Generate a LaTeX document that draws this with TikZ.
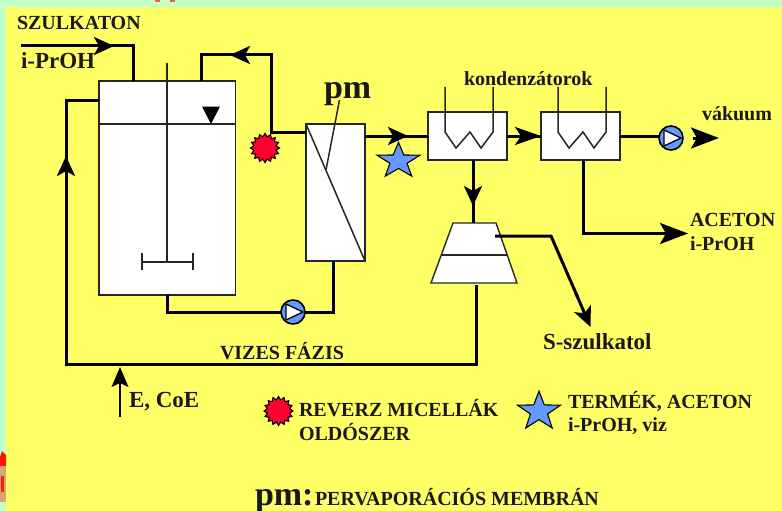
\documentclass[tikz,border=0pt]{standalone}
\usepackage{fontspec}
\setmainfont{Liberation Serif}
\usetikzlibrary{arrows.meta,shapes.geometric}
\definecolor{bggreen}{HTML}{C4FFC8}
\definecolor{bgyellow}{HTML}{FFFF66}
\definecolor{blueish}{HTML}{6699FF}
\definecolor{redish}{HTML}{FF0033}
\tikzset{
  unit/.style={draw=black!85,fill=white,line width=1.4pt,inner sep=0pt,outer sep=0pt},
  pipe/.style={line width=3pt,black,line join=miter},
  thin line/.style={line width=1.5pt,black!85},
  head/.style={-{Stealth[length=20pt,width=18pt,inset=5pt]},line width=3pt,black},
  bighead/.style={-{Stealth[length=28pt,width=21pt,inset=6pt]},line width=3pt,black},
  lbl/.style={anchor=base west,inner sep=0pt,outer sep=0pt,font=\bfseries\fontsize{20}{22}\selectfont,black!90},
  lblb/.style={lbl,font=\bfseries\fontsize{23}{25}\selectfont},
  lblh/.style={lbl,font=\bfseries\fontsize{34}{36}\selectfont},
  burst/.style={star,star points=16,star point ratio=1.28,fill=redish,draw=black,line width=1.1pt,inner sep=0pt,outer sep=0pt,minimum size=#1},
  bluestar/.style={star,star points=5,star point ratio=2.5,fill=blueish,draw=black,line width=1.1pt,inner sep=0pt,outer sep=0pt,minimum size=45pt,transform shape},
  pumpc/.style={circle,fill=blueish,draw=black,line width=1.6pt,minimum size=24pt,inner sep=0pt,outer sep=0pt},
}
\begin{document}
\begin{tikzpicture}[x=1pt,y=-1pt]
\useasboundingbox (0,0) rectangle (782,511);
% background
\fill[bggreen] (0,0) rectangle (782,511);
\fill[bgyellow] (6,7) rectangle (782,511);
% logo fragments at the edges
\fill[red!70!orange,opacity=.7] (155,0) rectangle (160,2);
\fill[red!70!orange,opacity=.7] (170,0) rectangle (175,2);
\fill[orange!60!gray!70] (0,466) rectangle (6,502);
\fill[red!85!orange] (0,457) -- (2,451) -- (6,455) -- (6,466) -- (0,466) -- cycle;
\fill[red!75!orange] (1,476) rectangle (4,492);

% units
\node[unit,minimum width=136.5pt,minimum height=214pt] (tank) at (167.25,188) {};
\node[unit,minimum width=59pt,minimum height=137pt] (memb) at (335.5,192.5) {};
\node[unit,minimum width=79pt,minimum height=48pt] (condA) at (467.5,136) {};
\node[unit,minimum width=79pt,minimum height=48pt] (condB) at (580.5,136) {};
\node[inner sep=0pt,outer sep=0pt,minimum width=86pt,minimum height=60pt] (sep) at (474,253) {};
\draw[draw=black!85,fill=white,line width=1.4pt] (453,223) -- (496,223) -- (sep.south east) -- (sep.south west) -- cycle;

% tank internals
\coordinate (shaftTop) at (167,63);
\coordinate (shaftEnd) at (167,262);
\coordinate (impL) at (142,262);
\coordinate (impR) at (193,262);
\draw[thin line] (shaftTop) -- (shaftEnd);
\draw[thin line] (impL) -- (impR);
\draw[thin line] (142,253) -- (142,270);
\draw[thin line] (193,253) -- (193,270);
\draw[thin line] (tank.west |- 0,124) -- (tank.east |- 0,124);
\fill[black] (202,106.5) -- (220,106.5) -- (211,124) -- cycle;

% membrane internals
\draw[thin line] (memb.north west) -- (memb.south east);
\coordinate (pmTop) at (339.5,100);
\coordinate (pmEnd) at (326,170);
\draw[thin line] (pmTop) -- (pmEnd);

% condenser coils
\draw[thin line] (445,87) -- (445,132) -- (456,148) -- (470,132) -- (481,148) -- (493,132) -- (493,87);
\draw[thin line] (558,87) -- (558,132) -- (569,148) -- (583,132) -- (594,148) -- (606,132) -- (606,87);

% separator mid line
\draw[thin line] (441.5,255) -- (507,255);

% pumps
\node[pumpc] (pumpA) at (293,312) {};
\draw[fill=white,draw=black,line width=1.3pt] (286,304) -- (303,312) -- (286,320) -- cycle;
\node[pumpc] (pumpB) at (671,138) {};
\draw[fill=white,draw=black,line width=1.3pt] (664,130) -- (681,138) -- (664,146) -- cycle;

% connectors
\coordinate (feedS) at (21,46);
\coordinate (feedC) at (133,46);
\coordinate (feedA) at (90,46);
\coordinate (feedB) at (114,46);
\draw[pipe] (feedS) -- (feedC) -- (feedC |- tank.north);
\draw[head] (feedA) -- (feedB);

\coordinate (retA) at (201,55);
\coordinate (retB) at (271,55);
\coordinate (retC) at (271,132);
\coordinate (retD) at (255,55);
\coordinate (retE) at (230,55);
\draw[pipe] (retA |- tank.north) -- (retA) -- (retB) -- (retC) -- (memb.west |- retC);
\draw[head] (retD) -- (retE);

\coordinate (botA) at (167,312);
\draw[pipe] (tank.south -| botA) -- (botA) -- (pumpA.west);
\coordinate (botB) at (333,312);
\draw[pipe] (pumpA.east) -- (botB) -- (botB |- memb.south);

\coordinate (loopA) at (66,100);
\coordinate (loopB) at (66,364);
\coordinate (loopC) at (476,364);
\coordinate (loopD) at (66,180);
\coordinate (loopE) at (66,156);
\draw[pipe] (tank.west |- loopA) -- (loopA) -- (loopB) -- (loopC) -- (476,285);
\draw[head] (loopD) -- (loopE);

\coordinate (permA) at (383,136);
\coordinate (permB) at (408,136);
\draw[pipe] (memb.east |- permA) -- (condA.west |- permA);
\draw[head] (permA) -- (permB);

\draw[pipe] (condA.east) -- (condB.west);
\coordinate (cabA) at (510,136);
\draw[-{Stealth[length=26pt,width=18pt,inset=6pt]},line width=3pt,black] (cabA) -- (condB.west);

\draw[pipe] (condB.east) -- (pumpB.west |- condB.east);
\coordinate (vacS) at (693,138);
\coordinate (vacT) at (719,138);
\draw[bighead] (vacS) -- (vacT);

\coordinate (dwnA) at (473,160);
\coordinate (dwnB) at (473,223);
\coordinate (dwnC) at (473,180);
\coordinate (dwnD) at (473,206);
\draw[pipe] (condA.south -| dwnA) -- (sep.north -| dwnB);
\draw[head] (dwnC) -- (dwnD);

\coordinate (acA) at (583,233.5);
\coordinate (acT) at (688,233.5);
\draw[pipe] (condB.south -| acA) -- (acA) -- (660,233.5);
\draw[bighead] (650,233.5) -- (acT);

\coordinate (sA) at (495,236);
\coordinate (sB) at (551,236);
\coordinate (sT) at (590.5,327);
\draw[pipe] (sA) -- (sB) -- (578,298);
\draw[head] (576,293.5) -- (sT);

\coordinate (eS) at (120,417);
\coordinate (eT) at (120,367);
\draw[-{Stealth[length=20pt,width=17pt,inset=4pt]},line width=1.6pt,black] (eS) -- (eT);

% markers
\node[burst=29pt] (mA) at (265,148) {};
\node[bluestar,yscale=.83] (sA2) at (398.5,161) {};
\node[burst=29pt] (mB) at (278.5,411) {};
\node[bluestar,yscale=.905] (sB2) at (539,411.5) {};

% labels
\node[lbl] (t1) at (17,30) {SZULKATON};
\node[lblb] (t2) at (21,69) {i-PrOH};
\node[lblh] (t3) at (324,99) {pm};
\node[lbl] (t4) at (464,85) {kondenzátorok};
\node[lbl] (t5) at (702,120) {vákuum};
\node[lbl] (t6) at (690,226) {ACETON};
\node[lbl] (t7) at (690,250) {i-PrOH};
\node[lblb] (t8) at (543,349) {S-szulkatol};
\node[lbl] (t9) at (220,359) {VIZES FÁZIS};
\node[lblb] (t10) at (129,407) {E, CoE};
\node[lbl] (t11) at (299,416) {REVERZ MICELLÁK};
\node[lbl] (t12) at (299,440) {OLDÓSZER};
\node[lbl] (t13) at (568,408) {TERMÉK, ACETON};
\node[lbl] (t14) at (568,431) {i-PrOH, viz};
\node[lblh] (t15) at (255,505) {pm:};
\node[lbl] (t16) at (315,505) {PERVAPORÁCIÓS MEMBRÁN};
\end{tikzpicture}
\end{document}
